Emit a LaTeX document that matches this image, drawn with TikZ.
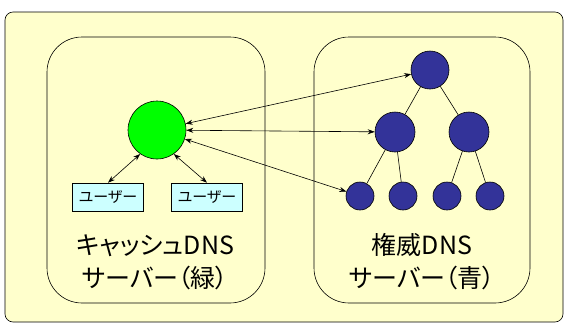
\documentclass[tikz,border=0pt]{standalone}
\usepackage{fontspec}
\newfontfamily\jp[RawFeature=+palt]{Noto Sans CJK JP}
\usetikzlibrary{arrows.meta}
\definecolor{bgyellow}{HTML}{FFFFCC}
\definecolor{userbox}{HTML}{CCFFFF}
\definecolor{authblue}{HTML}{333399}
\tikzset{
	srv/.style={circle, draw, fill=authblue, inner sep=0pt},
	user/.style={draw, fill=userbox, minimum width=71pt, minimum height=28pt, font=\jp\fontsize{15}{15}\selectfont},
	query/.style={{Stealth[length=7pt,width=5pt]}-{Stealth[length=7pt,width=5pt]}, semithick},
	lbl/.style={align=center, font=\jp\fontsize{25}{33}\selectfont}
}
\begin{document}
\begin{tikzpicture}[x=1pt, y=-1pt, semithick]
			\useasboundingbox (0, 0) rectangle (566, 325);
			\draw[fill=bgyellow, rounded corners=8pt] (5, 12) rectangle (563, 322);
			\draw[rounded corners=35pt] (47, 37) rectangle (265, 303);
			\draw[rounded corners=35pt] (314, 37) rectangle (530, 303);
			
			\node[circle, draw, fill=green, minimum size=58pt, inner sep=0pt] (cache) at (157, 130) {};
			\node[user] (u1) at (108, 197) {ユーザー};
			\node[user] (u2) at (207, 197) {ユーザー};
			
			\node[srv, minimum size=38pt] (root) at (430, 70) {};
			\node[srv, minimum size=40pt] (mid1) at (395, 132) {};
			\node[srv, minimum size=40pt] (mid2) at (469, 132) {};
			\foreach \n/\x in {1/360, 2/403, 3/447, 4/490}
				\node[srv, minimum size=28pt] (leaf\n) at (\x, 196) {};
			
			\draw (root) -- (mid1);
			\draw (root) -- (mid2);
			\draw (mid1) -- (leaf1);
			\draw (mid1) -- (leaf2);
			\draw (mid2) -- (leaf3);
			\draw (mid2) -- (leaf4);
			
			\draw[query] (cache) -- (root);
			\draw[query] (cache) -- (mid1);
			\draw[query] (cache) -- (leaf1);
			\draw[query] (cache.-125) -- (u1.north);
			\draw[query] (cache.-55) -- (u2.north);
			
			\node[lbl] (cachelbl) at (155, 262) {キャッシュDNS\\サーバー（緑）};
			\node[lbl] (authlbl) at (422, 262) {権威DNS\\サーバー（青）};
\end{tikzpicture}
\end{document}
